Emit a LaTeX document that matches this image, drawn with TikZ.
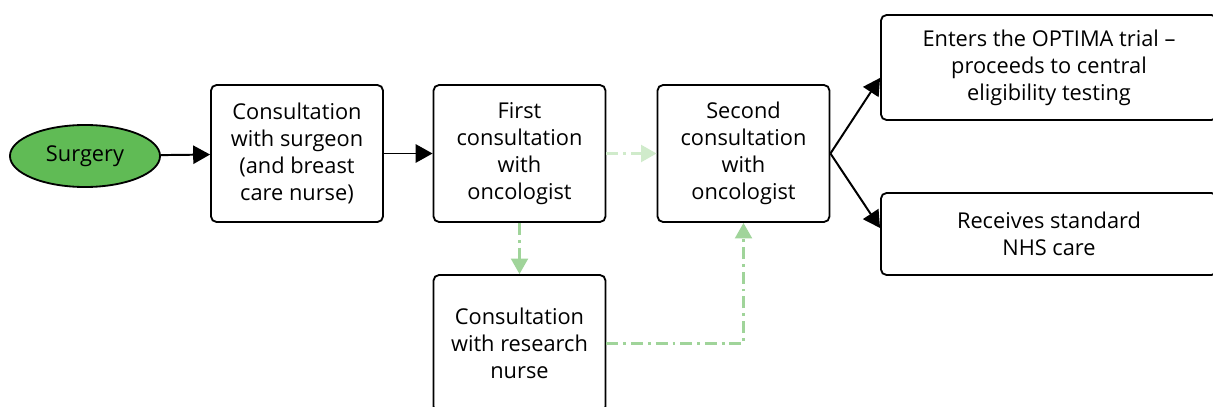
\documentclass[tikz,border=0pt]{standalone}
\usepackage{fontspec}
\setmainfont{Open Sans}
\usepackage{tikz}
\usetikzlibrary{shapes.geometric,arrows.meta}
\definecolor{surgerygreen}{RGB}{96,187,85}
\definecolor{palegreen}{RGB}{208,235,203}
\definecolor{lightgreen}{RGB}{160,212,154}
\tikzstyle{stepbox} = [draw=black, fill=white, line width=1.3pt,
    rectangle, rounded corners=4pt, align=center,
    minimum width=4.3cm, minimum height=3.425cm, inner sep=2pt]
\tikzstyle{outbox} = [draw=black, fill=white, line width=1.3pt,
    rectangle, rounded corners=4pt, align=center, minimum width=8.4cm]
\tikzstyle{flow} = [line width=1.4pt, -{Triangle[length=12pt,width=13pt]}]
\tikzstyle{option} = [line width=1.7pt, dash pattern=on 8.5pt off 3.5pt on 2pt off 3.5pt,
    -{Triangle[length=11pt,width=12pt]}]

\begin{document}
\begin{tikzpicture}[x=0.025cm, y=-0.025cm,
        font=\fontsize{15.5}{19.2}\selectfont]
                \clip (0,0) rectangle (1213,407);
                \node [ellipse, draw=black, fill=surgerygreen, line width=1.3pt,
                    minimum width=3.75cm, minimum height=1.55cm, inner sep=0pt]
                    (surgery) at (85,156) {Surgery};
                \node [stepbox] (box1) at (297,153.5)
                    {Consultation\\with surgeon\\(and breast\\care nurse)};
                \node [stepbox] (box2) at (519.5,153.5)
                    {First\\consultation\\with\\oncologist};
                \node [stepbox] (box3) at (743.5,153.5)
                    {Second\\consultation\\with\\oncologist};
                \node [stepbox] (box6) at (519.5,343.5)
                    {Consultation\\with research\\nurse};
                \node [outbox, minimum height=2.625cm] (trial) at (1049,67.5)
                    {Enters the OPTIMA trial --\\proceeds to central\\eligibility testing};
                \node [outbox, minimum height=2.05cm] (nhs) at (1049,234)
                    {Receives standard\\NHS care};

                \draw [flow] (surgery) -- (box1);
                \draw [flow] (box1) -- (box2);
                \draw [option, draw=palegreen] (box2) -- (box3);
                \draw [option, draw=lightgreen] (box2) -- (box6);
                \draw [option, draw=lightgreen] (box6.east) -| (box3.south);
                \draw [flow] (box3.east) -- ([yshift=-0.26cm]trial.west);
                \draw [flow] (box3.east) -- ([yshift=0.15cm]nhs.west);
\end{tikzpicture}
\end{document}
